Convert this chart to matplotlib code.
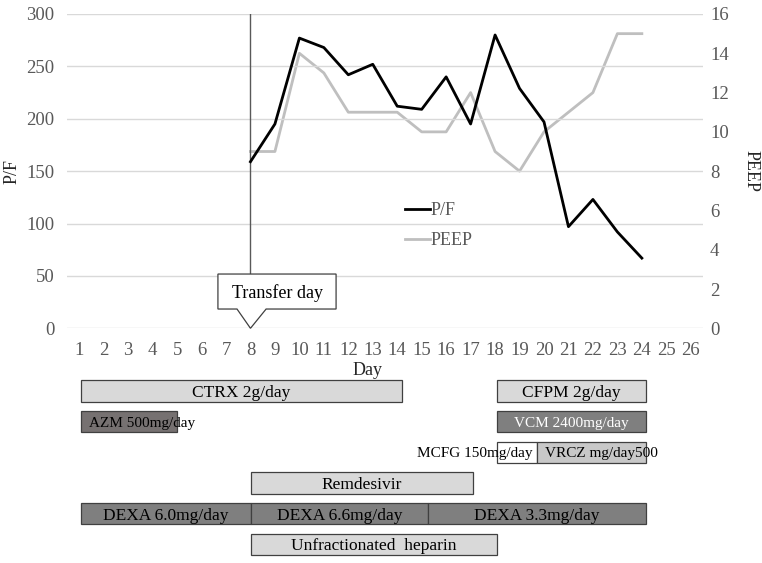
import matplotlib.pyplot as plt
from matplotlib.patches import Polygon

plt.rcParams['font.family'] = ['Liberation Serif', 'DejaVu Serif']

# -------- DATA --------
days = list(range(1, 27))
pf_days = [8, 9, 10, 11, 12, 13, 14, 15, 16, 17, 18, 19, 20, 21, 22, 23, 24]
pf = [159, 195, 277, 268, 242, 252, 212, 209, 240, 195, 280, 229, 197, 97, 123, 92, 67]
peep = [9, 9, 14, 13, 11, 11, 11, 10, 10, 12, 9, 8, 10, 11, 12, 15, 15]
transfer_day = 8

# treatment bars: label, start day, end day, row
tx_labels = ["CTRX 2g/day", "AZM 500mg/day", "CFPM 2g/day", "VCM 2400mg/day",
             "MCFG 150mg/day", "VRCZ mg/day500", "Remdesivir",
             "DEXA 6.0mg/day", "DEXA 6.6mg/day", "DEXA 3.3mg/day",
             "Unfractionated  heparin"]
tx_start = [1.08, 1.08, 18.07, 18.07, 18.07, 19.7, 8.02, 1.08, 8.02, 15.25, 8.02]
tx_end = [14.2, 5.0, 24.16, 24.16, 19.7, 24.16, 17.09, 8.02, 15.25, 24.16, 18.07]
tx_row = [0, 1, 0, 1, 2, 2, 3, 4, 4, 4, 5]

fills = ["#d9d9d9", "#767171", "#d9d9d9", "#7f7f7f", "#ffffff", "#c8c8c8",
         "#d9d9d9", "#7f7f7f", "#7f7f7f", "#7f7f7f", "#d9d9d9"]
txt_col = ["black", "black", "black", "white", "black", "black",
           "black", "black", "black", "black", "black"]
txt_align = ["center", "left", "center", "center", "right", "left",
             "center", "center", "center", "center", "center"]
txt_size = [12.5, 11, 12.5, 11, 11, 11, 12.5, 12.5, 12.5, 12.5, 12.5]

gray = "#595959"
W, H = 762, 563

fig = plt.figure(figsize=(7.62, 5.63), dpi=100)

# -------- MAIN CHART --------
ax = fig.add_axes([67 / W, 1 - 328.3 / H, 636 / W, 314.3 / H])
ax2 = ax.twinx()

ax.set_xlim(0.5, 26.5)
ax.set_ylim(0, 300)
ax2.set_ylim(0, 16)
ax.set_yticks(range(0, 301, 50))
ax2.set_yticks(range(0, 17, 2))
ax.set_xticks(days)

ax.grid(axis='y', color='#d9d9d9', linewidth=1)
ax.set_axisbelow(True)
for a in (ax, ax2):
    for s in a.spines.values():
        s.set_visible(False)
ax.tick_params(axis='both', length=0, labelsize=13.5, labelcolor=gray)
ax.tick_params(axis='x', pad=10)
ax.tick_params(axis='y', pad=9)
ax2.tick_params(axis='y', length=0, labelsize=13.5, labelcolor=gray, pad=5)

ax.set_ylabel("P/F", fontsize=13, color='#262626', labelpad=4)
ax2.set_ylabel("PEEP", fontsize=13, color='#262626', rotation=270, labelpad=22)
ax.text((368 - 67) / 636, -0.135, "Day", transform=ax.transAxes,
        ha='center', va='center', fontsize=13, color='#262626')

l2, = ax2.plot(pf_days, peep, color='#bfbfbf', linewidth=2.0, label='PEEP')
l1, = ax.plot(pf_days, pf, color='black', linewidth=2.0, label='P/F')
ax.set_zorder(ax2.get_zorder() + 1)
ax.patch.set_visible(False)

ax.axvline(transfer_day, ymin=0, ymax=1, color=gray, linewidth=1, zorder=1)

# callout "Transfer day"
bx0, bx1 = transfer_day - 1.33, transfer_day + 3.5
by0, by1 = 18.4, 51.8
callout = Polygon([(bx0, by0), (transfer_day - 0.55, by0), (transfer_day, 0),
                   (transfer_day + 0.64, by0), (bx1, by0), (bx1, by1), (bx0, by1)],
                  closed=True, facecolor='white', edgecolor='#404040',
                  linewidth=0.9, zorder=5, clip_on=False)
ax.add_patch(callout)
ax.text((bx0 + bx1) / 2, (by0 + by1) / 2, "Transfer day", ha='center',
        va='center_baseline', fontsize=13, color='black', zorder=6)

leg = ax.legend(handles=[l1, l2], loc='upper left', bbox_to_anchor=(0.532, 0.402),
                frameon=False, fontsize=13, handlelength=1.35, handletextpad=0.05,
                labelspacing=0.75, borderpad=0, borderaxespad=0)
for t in leg.get_texts():
    t.set_color(gray)

# -------- TREATMENT BARS --------
bx = fig.add_axes([67 / W, 1 - 559.8 / H, 636 / W, 184.2 / H])
bx.set_xlim(0.5, 26.5)
bx.set_ylim(5.5, -0.5)
bx.axis('off')

for lab, s, e, r, fc, tc, al, fs in zip(tx_labels, tx_start, tx_end, tx_row,
                                        fills, txt_col, txt_align, txt_size):
    bx.barh(r, e - s, left=s, height=0.69, color=fc, edgecolor='#404040', linewidth=0.9)
    if al == 'center':
        x = (s + e) / 2
    elif al == 'left':
        x = s + 0.33
    else:
        x = e - 0.18
    bx.text(x, r, lab, ha=al, va='center_baseline', fontsize=fs, color=tc, zorder=5)

fig.savefig("out.png", dpi=100)
